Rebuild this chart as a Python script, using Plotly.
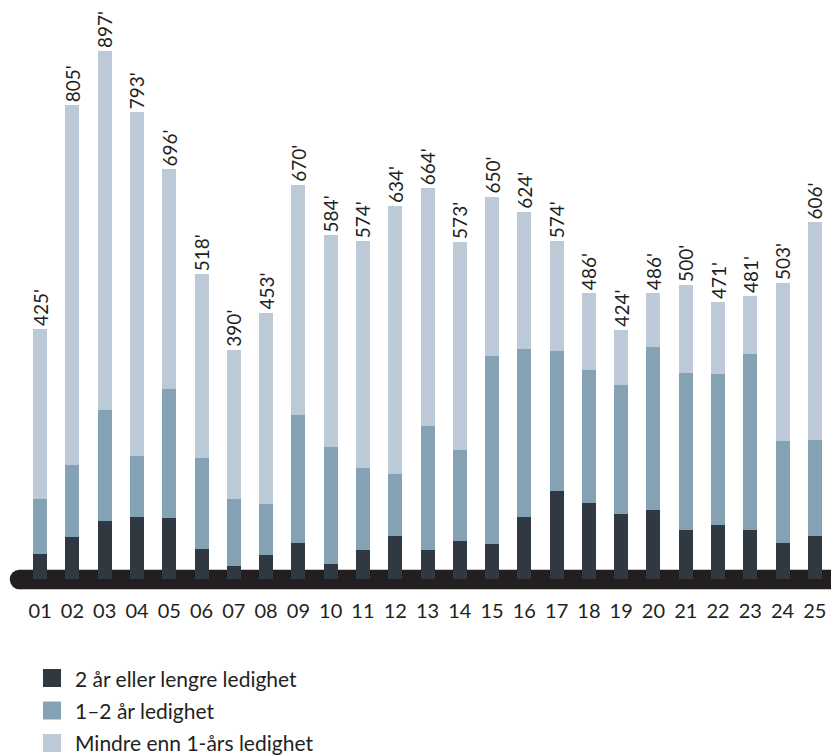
import plotly.graph_objects as go

# Periods on the x axis
periods = [f"{i:02d}" for i in range(1, 26)]

# Totals (thousands) per period, shown above each bar
totals = [425, 805, 897, 793, 696, 518, 390, 453, 670, 584, 574, 634, 664,
          573, 650, 624, 574, 486, 424, 486, 500, 471, 481, 503, 606]

# Long-term: 2 years or more
long_term = [43, 72, 99, 106, 104, 51, 23, 41, 62, 26, 50, 74, 50,
             65, 60, 106, 150, 130, 111, 118, 84, 92, 84, 62, 74]

# 1-2 years
mid_term = [93, 122, 188, 103, 219, 155, 113, 87, 217, 199, 139, 105, 210,
            155, 319, 285, 238, 225, 219, 276, 266, 257, 299, 173, 163]

# Under one year makes up the rest of each total
short_term = [t - a - b for t, a, b in zip(totals, long_term, mid_term)]

series_names = ["2 år eller lengre ledighet", "1–2 år ledighet", "Mindre enn 1-års ledighet"]
colors = ["#303842", "#85a2b4", "#bccad8"]
ink = "#231f20"
font_family = "Lato, 'Noto Sans', sans-serif"

fig = go.Figure()

for name, vals, col in zip(series_names, [long_term, mid_term, short_term], colors):
    is_top = vals is short_term
    fig.add_trace(go.Bar(
        x=periods, y=vals, name=name,
        marker=dict(color=col, line=dict(width=0)),
        showlegend=False,
        text=[f"{t}'" for t in totals] if is_top else None,
        textposition="outside" if is_top else "none",
        textangle=-90,
        constraintext="none",
        cliponaxis=False,
        textfont=dict(size=19, color=ink, family=font_family),
        hoverinfo="skip",
    ))

W, H = 831, 756
ml, mr, mt, mb = 24, 0, 14, 159
pw, ph = W - ml - mr, H - mt - mb

def px_x(p):
    return (p - ml) / pw

def px_y(p):
    return (H - mb - p) / ph

# Thick rounded baseline drawn beneath the bars
cy, half = 579.5, 9.75
fig.add_shape(type="rect", xref="paper", yref="paper", layer="below",
              x0=px_x(19.5), x1=px_x(835), y0=px_y(cy + half), y1=px_y(cy - half),
              fillcolor=ink, line=dict(width=0))
fig.add_shape(type="circle", xref="paper", yref="paper", layer="below",
              x0=px_x(19.5 - half), x1=px_x(19.5 + half),
              y0=px_y(cy + half), y1=px_y(cy - half),
              fillcolor=ink, line=dict(width=0))

# Legend: square swatches with labels, stacked below the chart
swatch_rows = [678, 710.5, 743]
label_rows = [678, 710.5, 742]
for name, col, sy, ty in zip(series_names, colors, swatch_rows, label_rows):
    fig.add_shape(type="rect", xref="paper", yref="paper",
                  x0=px_x(43), x1=px_x(61), y0=px_y(sy + 9), y1=px_y(sy - 9),
                  fillcolor=col, line=dict(width=0))
    fig.add_annotation(xref="paper", yref="paper", x=px_x(74), y=px_y(ty),
                       xanchor="left", yanchor="middle", showarrow=False,
                       borderpad=0, text=name,
                       font=dict(size=21, color=ink, family=font_family))

fig.update_layout(
    width=W, height=H,
    margin=dict(l=ml, r=mr, t=mt, b=mb),
    barmode="stack",
    bargap=0.566,
    showlegend=False,
    plot_bgcolor="white",
    paper_bgcolor="white",
    font=dict(family=font_family, color=ink),
    xaxis=dict(
        range=[-0.5, 24.5], showgrid=False, showline=False, zeroline=False,
        ticks="", tickfont=dict(size=20, color=ink, family=font_family),
    ),
    yaxis=dict(range=[-30, 960], visible=False),
)

fig.write_html("out.html")
